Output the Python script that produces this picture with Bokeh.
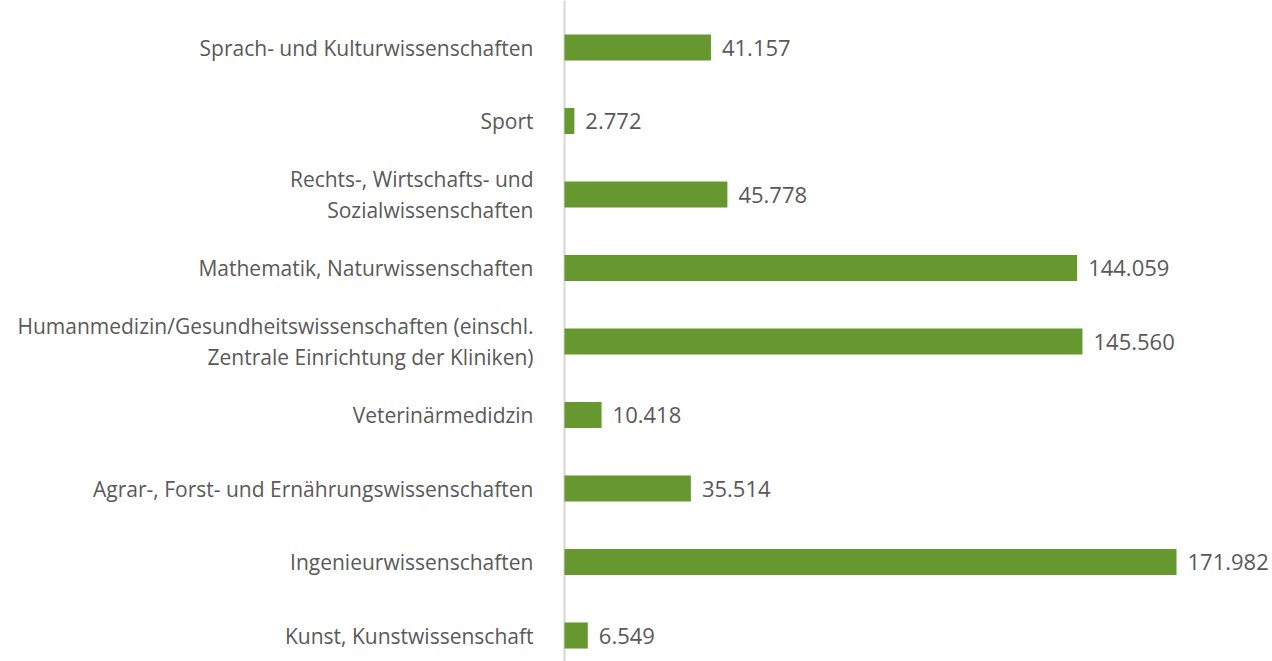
from bokeh.plotting import figure
from bokeh.models import ColumnDataSource, Range1d, Span
from bokeh.core.properties import value
from bokeh.embed import file_html
from bokeh.resources import INLINE

categories = [
    "Sprach- und Kulturwissenschaften",
    "Sport",
    "Rechts-, Wirtschafts- und\nSozialwissenschaften",
    "Mathematik, Naturwissenschaften",
    "Humanmedizin/Gesundheitswissenschaften (einschl.\nZentrale Einrichtung der Kliniken)",
    "Veterinärmedidzin",
    "Agrar-, Forst- und Ernährungswissenschaften",
    "Ingenieurwissenschaften",
    "Kunst, Kunstwissenschaft",
]
values = [41157, 2772, 45778, 144059, 145560, 10418, 35514, 171982, 6549]
value_labels = [f"{v:,}".replace(",", ".") for v in values]
positions = list(range(len(categories)))

src = ColumnDataSource(dict(
    y=positions, v=values, cat=categories, lab=value_labels,
    zero=[0] * len(values),
))

W, H = 1272, 661
k = 612 / 171982.0  # px per unit
x0 = 564
top_c, step = 47, 73.5
p = figure(width=W, height=H, output_backend="svg", toolbar_location=None,
           x_range=Range1d(-x0 / k, (W - x0) / k),
           y_range=Range1d(8 + (H - (top_c + 8 * step)) / step, -top_c / step),
           min_border=0, min_border_left=0, min_border_right=0,
           min_border_top=0, min_border_bottom=0)
p.axis.visible = False
p.grid.visible = False
p.outline_line_color = None
p.background_fill_color = "white"

p.add_layout(Span(location=0, dimension="height", line_color="#d6d6d6",
                  line_width=2, level="underlay"))

p.hbar(y="y", left="zero", right="v", height=0.355, source=src,
       fill_color="#67972f", line_color=None)

p.text(x="zero", y="y", text="cat", source=src, x_offset=-31,
       text_align="right", text_baseline="middle",
       text_font=value("Open Sans"), text_font_size="21px",
       text_color="#595959", text_line_height=1.1)

p.text(x="v", y="y", text="lab", source=src, x_offset=11,
       text_align="left", text_baseline="middle",
       text_font=value("Open Sans"), text_font_size="22px",
       text_color="#595959")

open("out.html", "w").write(file_html(p, INLINE))
